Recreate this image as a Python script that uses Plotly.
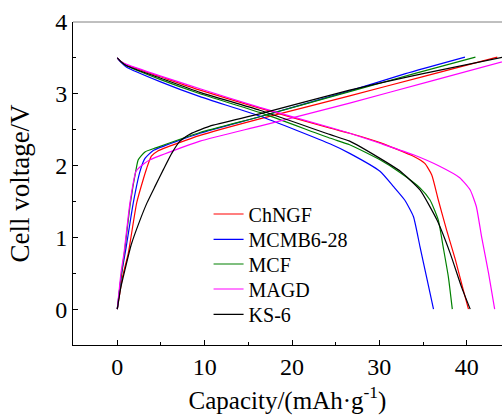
import plotly.graph_objects as go

# Galvanostatic charge / discharge profiles of five carbon materials
names = ["ChNGF", "MCMB6-28", "MCF", "MAGD", "KS-6"]
colors = ["#ff0000", "#0000ff", "#008000", "#ff00ff", "#000000"]

# charge branch: capacity (mAh/g) and cell voltage (V)
chg_cap = {
    "ChNGF":    [0, 0.6, 1.26, 2.22, 3.0, 3.36, 3.9, 4.6, 9.47, 16.3, 26.6, 35.0, 43.5],
    "MCMB6-28": [0, 0.5, 1.0, 1.83, 2.6, 3.17, 4.12, 9.47, 16.3, 26.6, 33.0, 39.8],
    "MCF":      [0, 0.4, 0.85, 1.5, 2.14, 2.4, 3.17, 4.5, 9.47, 16.3, 26.6, 34.0, 41.0],
    "MAGD":     [0, 0.42, 0.77, 1.45, 2.14, 2.5, 2.79, 3.74, 9.47, 16.3, 26.6, 36.0, 45.7],
    "KS-6":     [0, 0.4, 0.88, 1.6, 2.6, 3.4, 4.32, 5.3, 6.23, 7.18, 8.2, 9.09, 10.6, 16.3, 26.6, 35.0, 44.2],
}
chg_volt = {
    "ChNGF":    [0, 0.45, 0.78, 1.48, 1.82, 1.96, 2.13, 2.2, 2.42, 2.65, 2.97, 3.24, 3.51],
    "MCMB6-28": [0, 0.5, 0.85, 1.48, 1.92, 2.1, 2.21, 2.45, 2.68, 3.04, 3.28, 3.51],
    "MCF":      [0, 0.42, 0.82, 1.48, 1.94, 2.08, 2.19, 2.25, 2.46, 2.68, 3.03, 3.28, 3.51],
    "MAGD":     [0, 0.5, 0.78, 1.48, 1.92, 1.97, 2.0, 2.08, 2.34, 2.55, 2.87, 3.18, 3.5],
    "KS-6":     [0, 0.3, 0.55, 0.9, 1.24, 1.48, 1.71, 1.95, 2.17, 2.34, 2.43, 2.48, 2.55, 2.72, 3.05, 3.28, 3.51],
}

# discharge branch
dis_cap = {
    "ChNGF":    [0, 0.4, 1.07, 4.89, 9.47, 16.3, 24.4, 26.6, 30.07, 33.9, 35.2, 36.0, 36.75, 37.7, 38.7, 39.6, 40.2],
    "MCMB6-28": [0, 0.4, 1.07, 4.89, 9.47, 16.3, 24.4, 26.6, 30.07, 31.6, 32.9, 33.9, 34.65, 35.4, 36.2],
    "MCF":      [0, 0.4, 1.07, 4.89, 9.47, 16.3, 24.4, 26.6, 30.07, 32.4, 34.65, 35.8, 36.75, 37.3, 37.9, 38.35],
    "MAGD":     [0, 0.4, 1.07, 4.89, 9.47, 16.3, 24.4, 26.6, 30.07, 33.9, 36.9, 39.2, 40.4, 41.1, 41.7, 42.5, 43.2],
    "KS-6":     [0, 0.4, 1.07, 4.89, 9.47, 16.3, 24.4, 26.6, 30.07, 32.4, 34.65, 36.6, 38.1, 39.4, 40.4],
}
dis_volt = {
    "ChNGF":    [3.5, 3.45, 3.40, 3.24, 3.05, 2.80, 2.52, 2.45, 2.32, 2.13, 2.03, 1.87, 1.52, 1.10, 0.69, 0.27, 0],
    "MCMB6-28": [3.5, 3.44, 3.37, 3.17, 2.96, 2.69, 2.30, 2.17, 1.92, 1.71, 1.52, 1.29, 0.87, 0.45, 0],
    "MCF":      [3.5, 3.45, 3.39, 3.20, 3.00, 2.74, 2.38, 2.29, 2.08, 1.90, 1.69, 1.52, 1.24, 0.87, 0.45, 0],
    "MAGD":     [3.5, 3.45, 3.41, 3.25, 3.07, 2.81, 2.53, 2.45, 2.31, 2.15, 1.99, 1.83, 1.66, 1.43, 1.01, 0.50, 0],
    "KS-6":     [3.5, 3.45, 3.39, 3.22, 3.02, 2.77, 2.43, 2.34, 2.10, 1.92, 1.66, 1.24, 0.78, 0.31, 0],
}

x_ticks = [0, 10, 20, 30, 40]
y_ticks = [0, 1, 2, 3, 4]

serif = "Liberation Serif, Times New Roman, serif"

# each series gets its own one-entry legend so the rows can be spaced tightly
legend_ids = ["legend", "legend2", "legend3", "legend4", "legend5"]
legend_rows_y = [0.4056, 0.3272, 0.2508, 0.1734, 0.0950]

fig = go.Figure()
for name, color, lid in zip(names, colors, legend_ids):
    xs = chg_cap[name] + [None] + dis_cap[name]
    ys = chg_volt[name] + [None] + dis_volt[name]
    fig.add_trace(go.Scatter(
        x=xs, y=ys, mode="lines", name=name, legend=lid,
        line=dict(color=color, width=1.2, shape="spline", smoothing=0.5),
        connectgaps=False,
    ))

legend_style = dict(
    x=0.316, xanchor="left", yanchor="middle",
    bgcolor="rgba(0,0,0,0)", borderwidth=0,
    font=dict(family=serif, size=20, color="black"),
    itemwidth=30,
)

fig.update_layout(
    width=502, height=415,
    margin=dict(l=73, r=0, t=22, b=70),
    paper_bgcolor="white", plot_bgcolor="white",
    font=dict(family=serif, color="black"),
    showlegend=True,
    xaxis=dict(
        range=[-5.07, 44.04],
        tickvals=x_ticks, ticktext=[str(v) for v in x_ticks],
        ticks="inside", ticklen=5, tickwidth=1, tickcolor="black",
        minor=dict(dtick=5, tick0=0, ticks="inside", ticklen=3, tickcolor="black"),
        showline=True, linecolor="black", linewidth=1, mirror=False,
        showgrid=False, zeroline=False,
        tickfont=dict(family=serif, size=24, color="black"),
        title=dict(text="Capacity/(mAh·g<sup>-1</sup>)", font=dict(family=serif, size=25, color="black"), standoff=15),
    ),
    yaxis=dict(
        range=[-0.5, 4.0],
        tickvals=y_ticks, ticktext=[str(v) for v in y_ticks],
        ticks="inside", ticklen=5, tickwidth=1, tickcolor="black",
        minor=dict(dtick=0.5, tick0=0, ticks="inside", ticklen=3, tickcolor="black"),
        showline=True, linecolor="black", linewidth=1,
        showgrid=False, zeroline=False,
        tickfont=dict(family=serif, size=24, color="black"),
        title=dict(text="Cell voltage/V", font=dict(family=serif, size=27, color="black"), standoff=17),
    ),
)
for lid, ly in zip(legend_ids, legend_rows_y):
    fig.update_layout({lid: dict(legend_style, y=ly)})

# frame line along the top edge of the plotting area
fig.add_shape(type="line", xref="paper", yref="paper", x0=0, x1=1, y0=1, y1=1,
              line=dict(color="#808080", width=1))

fig.write_html("out.html")
